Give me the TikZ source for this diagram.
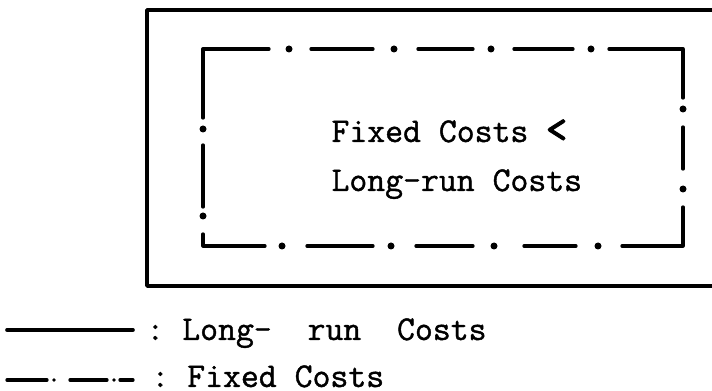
\documentclass[tikz,border=0pt]{standalone}
\usepackage{fontspec}
\usepackage{tikz}
\usetikzlibrary{positioning}
\newfontfamily\costfont{Latin Modern Mono}[FakeBold=1.2]
\newfontfamily\chevfont{Latin Modern Mono}[FakeBold=3.5]

\begin{document}
\begin{tikzpicture}[
            x=0.4pt, y=-0.4pt,
            font=\fontsize{13.9}{16}\selectfont\costfont,
            txt/.style={anchor=base west, inner sep=0pt},
            longline/.style={draw, line width=1.45pt, line cap=round, line join=round},
            fixline/.style={draw, line width=1.3pt, line cap=round, line join=round}
        ]
        \useasboundingbox (0,0) rectangle (712,391);

        % --- Long-run costs: outer frame (runs off the right edge) ---
        \path[longline] (730,10) -- (147,10) -- (147,286) -- (730,286);

        % --- Fixed costs: inner dash-dot frame ---
        \foreach \seg in {%
            {(203,118) -- (203,49) -- (269,49)},
            {(311,49) -- (373,49)},
            {(418,49) -- (473,49)},
            {(514,49) -- (573,49)},
            {(609,49) -- (683,49) -- (683,98)},
            {(683,127) -- (683,169)},
            {(683,207) -- (683,246) -- (622,246)},
            {(576,246) -- (524,246)},
            {(473,246) -- (416,246)},
            {(373,246) -- (307,246)},
            {(265,246) -- (203,246) -- (203,234)},
            {(203,207) -- (203,145)}}
            \path[fixline] \seg;
        \foreach \p in {(289,49), (394,49), (491,49), (591,49),
                        (683,109), (683,189),
                        (598,246), (494,246), (391,246), (282,246),
                        (203,216), (203,129)}
            \fill \p circle[radius=1.4pt];

        % --- Relation ---
        \node[txt] (fixed) at (331,142) {Fixed Costs {\chevfont\fontsize{16}{16}\selectfont <}};
        \node[txt] (longrun) at ([yshift=-19.6pt]fixed.base west) {Long-run Costs};

        % --- Legend ---
        \coordinate (lra) at (7,330);
        \coordinate (lrb) at (133,330);
        \path[longline] (lra) -- (lrb);
        \foreach \seg in {{(7,380) -- (47,380)}, {(70,380) -- (107,380)}, {(120,380) -- (133,380)}}
            \path[fixline] \seg;
        \foreach \p in {(54,380), (114,380)}
            \fill \p circle[radius=0.75pt];
        \node[txt] (lrkey) at (146,340) {:\ Long-\ \ run\ \ Costs};
        \node[txt] (fckey) at (151,387) {:\ Fixed Costs};

        \end{tikzpicture}
\end{document}
